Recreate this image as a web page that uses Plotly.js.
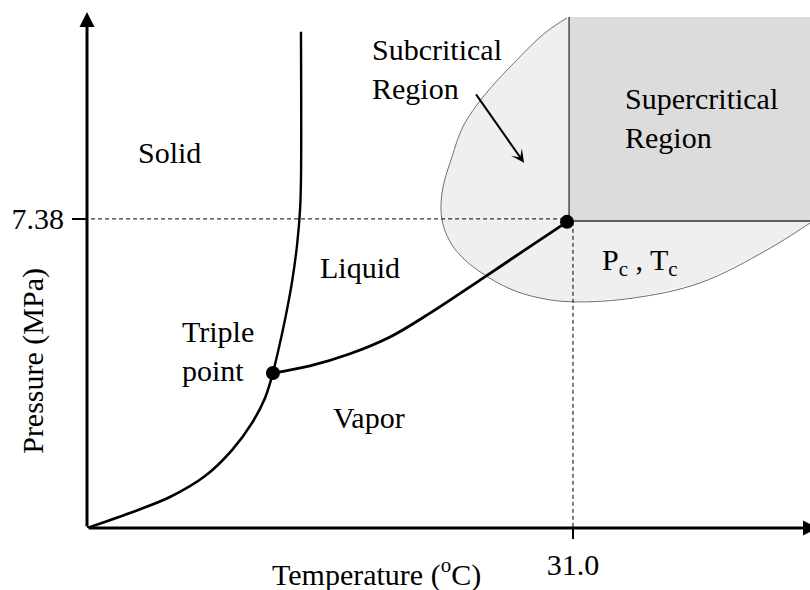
<!DOCTYPE html>
<html>
<head>
<meta charset="utf-8">
<script src="https://cdn.plot.ly/plotly-3.0.1.min.js"></script>
<style>html,body{margin:0;padding:0;background:#fff;}#chart{width:810px;height:590px;}</style>
</head>
<body>
<div id="chart"></div>
<script>
// ---- data (schematic CO2 phase diagram) ----
const sublimationT = [0, 2.74, 5.29, 7.53, 9.25, 10.53, 11.35, 11.86];
const sublimationP = [0, 0.36, 0.74, 1.24, 1.86, 2.51, 3.10, 3.70];

const meltingT = [11.86, 12.18, 12.63, 13.08, 13.40, 13.59, 13.65, 13.65];
const meltingP = [3.70, 4.20, 4.97, 5.88, 6.76, 7.60, 8.31, 11.85];

const vaporT = [11.86, 14.22, 16.78, 19.33, 21.88, 25.07, 27.94, 30.62];
const vaporP = [3.70, 3.87, 4.16, 4.56, 5.13, 5.92, 6.64, 7.31];

const triplePoint = {T: 11.86, P: 3.70};
const criticalPoint = {T: 30.62, P: 7.31};

const subcritT = [30.62, 29.21, 27.43, 25.26, 23.98, 23.28, 22.71, 22.58, 22.77, 23.28, 24.11, 25.26, 26.98, 28.90, 31.00, 34.83, 39.10, 43.38, 46.12, 47.39];
const subcritP = [12.18, 11.82, 11.18, 10.29, 9.58, 8.86, 8.14, 7.59, 7.17, 6.76, 6.40, 6.07, 5.71, 5.49, 5.40, 5.49, 5.85, 6.64, 7.28, 7.59];

const supercritT = [30.75, 47.5];
const supercritP = [7.33, 12.20];

const tickT = [31.0];
const tickTText = ['31.0'];
const tickP = [7.38];
const tickPText = ['7.38'];

const xMax = 46.12, yMax = 12.32;

// ---- traces ----
const FONT = 'Liberation Serif, Times New Roman, serif';
const traces = [];

// subcritical fill (closed polygon, corner hidden under supercritical box)
traces.push({
  x: subcritT.concat([subcritT[subcritT.length-1], subcritT[0]]),
  y: subcritP.concat([subcritP[0], subcritP[0]]),
  mode: 'lines', fill: 'toself', fillcolor: '#efefef',
  line: {width: 0}, hoverinfo: 'skip'
});
// subcritical outline
traces.push({
  x: subcritT, y: subcritP, mode: 'lines',
  line: {color: '#6e6e6e', width: 1, shape: 'spline'}, hoverinfo: 'skip'
});
// supercritical box fill
traces.push({
  x: [supercritT[0], supercritT[1], supercritT[1], supercritT[0], supercritT[0]],
  y: [supercritP[0], supercritP[0], supercritP[1], supercritP[1], supercritP[0]],
  mode: 'lines', fill: 'toself', fillcolor: '#dcdcdc',
  line: {width: 0}, hoverinfo: 'skip'
});
// supercritical box edges (left and bottom)
traces.push({
  x: [supercritT[0], supercritT[0], supercritT[1]],
  y: [supercritP[1], supercritP[0], supercritP[0]],
  mode: 'lines', line: {color: '#333333', width: 1.3}, hoverinfo: 'skip'
});
// dashed guides
traces.push({
  x: [-1.08, criticalPoint.T], y: [tickP[0], tickP[0]], mode: 'lines',
  line: {color: '#000', width: 1, dash: '4px,3px'}, cliponaxis: false, hoverinfo: 'skip'
});
traces.push({
  x: [tickT[0], tickT[0]], y: [criticalPoint.P, 0], mode: 'lines',
  line: {color: '#000', width: 1, dash: '4px,3px'}, hoverinfo: 'skip'
});
// phase boundaries
traces.push({x: sublimationT, y: sublimationP, mode: 'lines', line: {color: '#000', width: 2.6, shape: 'spline', smoothing: 1}, hoverinfo: 'skip'});
traces.push({x: meltingT, y: meltingP, mode: 'lines', line: {color: '#000', width: 2.4, shape: 'spline', smoothing: 1}, hoverinfo: 'skip'});
traces.push({x: vaporT, y: vaporP, mode: 'lines', line: {color: '#000', width: 2.8, shape: 'spline', smoothing: 1}, hoverinfo: 'skip'});
// points
traces.push({
  x: [triplePoint.T, criticalPoint.T], y: [triplePoint.P, criticalPoint.P], mode: 'markers',
  marker: {color: '#000', size: 14}, hoverinfo: 'skip'
});

const txt = () => ({size: 30, family: FONT, color: '#000'});

const annotations = [
  // axes with arrowheads
  {x: 0, y: yMax, ax: 0, ay: 0, xref: 'x', yref: 'y', axref: 'x', ayref: 'y', showarrow: true,
   arrowhead: 2, arrowsize: 1, arrowwidth: 3, arrowcolor: '#000', text: ''},
  {x: 46.63, y: 0, ax: 0, ay: 0, xref: 'x', yref: 'y', axref: 'x', ayref: 'y', showarrow: true,
   arrowhead: 2, arrowsize: 1, arrowwidth: 3, arrowcolor: '#000', text: ''},
  // subcritical pointer arrow
  {x: 27.88, y: 8.72, ax: 24.75, ay: 10.39, xref: 'x', yref: 'y', axref: 'x', ayref: 'y', showarrow: true,
   arrowhead: 3, arrowsize: 1.1, arrowwidth: 2, arrowcolor: '#000', text: ''},
  // region labels
  {x: 5.29, y: 8.96, xref: 'x', yref: 'y', text: 'Solid', showarrow: false, font: txt()},
  {x: 17.41, y: 6.21, xref: 'x', yref: 'y', text: 'Liquid', showarrow: false, font: txt()},
  {x: 5.93, y: 4.23, xref: 'x', yref: 'y', text: 'Triple<br>point', showarrow: false, xanchor: 'left', align: 'left', font: txt()},
  {x: 17.99, y: 2.65, xref: 'x', yref: 'y', text: 'Vapor', showarrow: false, font: txt()},
  {x: 18.05, y: 10.97, xref: 'x', yref: 'y', text: 'Subcritical<br>Region', showarrow: false, xanchor: 'left', align: 'left', font: txt()},
  {x: 34.19, y: 9.78, xref: 'x', yref: 'y', text: 'Supercritical<br>Region', showarrow: false, xanchor: 'left', align: 'left', font: txt()},
  {x: 32.72, y: 6.36, xref: 'x', yref: 'y', text: 'P<sub>c</sub> , T<sub>c</sub>', showarrow: false, xanchor: 'left', font: txt()},
  // axis titles
  {x: 0.401, y: -0.086, xref: 'paper', yref: 'paper', xanchor: 'center', yanchor: 'middle',
   text: 'Temperature (<sup>o</sup>C)', showarrow: false, font: txt()},
  {x: -0.0747, y: 0.324, xref: 'paper', yref: 'paper', xanchor: 'center', yanchor: 'middle',
   text: 'Pressure (MPa)', textangle: -90, showarrow: false, font: txt()}
];

const layout = {
  width: 810, height: 590,
  margin: {l: 87, r: 0, t: 12, b: 62, pad: 0},
  paper_bgcolor: '#fff', plot_bgcolor: 'rgba(0,0,0,0)',
  showlegend: false,
  xaxis: {
    range: [0, xMax], showgrid: false, zeroline: false, showline: false,
    tickvals: tickT, ticktext: tickTText, ticks: 'outside', ticklen: 10, tickwidth: 2.5, tickcolor: '#000',
    ticklabelstandoff: 0,
    tickfont: {size: 30, family: FONT, color: '#000'}, fixedrange: true
  },
  yaxis: {
    range: [0, yMax], showgrid: false, zeroline: false, showline: false,
    tickvals: tickP, ticktext: tickPText, ticks: 'outside', ticklen: 14, tickwidth: 2.5, tickcolor: '#000',
    ticklabelstandoff: 2,
    tickfont: {size: 30, family: FONT, color: '#000'}, fixedrange: true
  },
  annotations: annotations
};

Plotly.newPlot('chart', traces, layout, {displayModeBar: false, staticPlot: true});
</script>
</body>
</html>
